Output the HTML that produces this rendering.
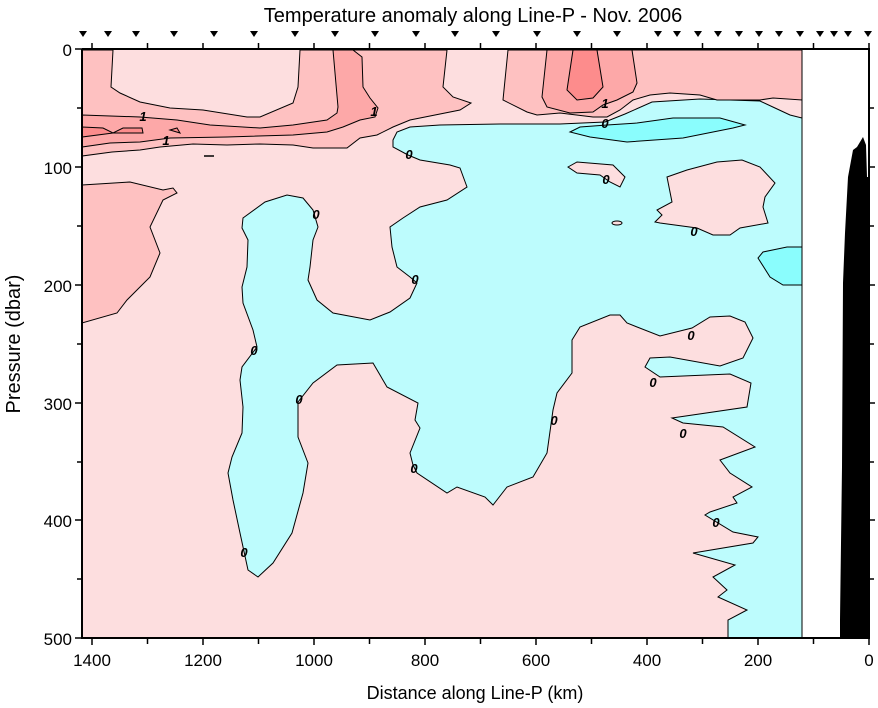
<!DOCTYPE html>
<html><head><meta charset="utf-8"><style>
html,body{margin:0;padding:0;background:#fff}
svg{display:block}
text{font-family:"Liberation Sans",Arial,sans-serif;fill:#000}
</style></head><body>
<svg width="878" height="708" viewBox="0 0 878 708" xmlns="http://www.w3.org/2000/svg">
<rect x="82" y="50" width="720" height="588" fill="#fddedf"/>
<polygon fill="#bdfcfd" stroke="#000" stroke-width="1" points="393,140 397,132 410,127 440,125 500,124 560,124 605,122 625,114 652,102 700,99 760,101 775,108 790,115 802,118 802,638 728,638 728,620 747,610 718,597 727,590 713,577 735,565 693,553 753,543 758,537 733,532 705,515 710,512 737,503 733,497 752,487 730,473 720,460 755,447 723,427 683,423 672,418 747,407 751,383 730,374 660,377 645,367 650,358 670,357 720,366 743,358 753,338 745,322 730,316 710,317 692,328 660,336 627,323 620,315 610,315 580,327 572,340 572,373 557,393 553,410 547,453 533,477 507,487 493,505 485,497 457,487 447,493 417,473 413,465 410,453 420,428 415,420 418,403 387,387 373,363 337,365 313,383 298,402 298,437 308,463 303,493 292,533 273,563 258,577 248,570 240,533 233,500 228,473 232,457 242,433 243,407 240,380 242,367 257,347 253,330 243,303 242,287 247,267 248,240 242,228 243,218 265,202 287,195 303,198 313,210 318,227 313,240 310,267 308,280 317,300 333,313 370,320 390,312 410,298 417,283 410,277 397,267 392,247 390,227 403,218 420,207 447,200 467,187 460,168 450,165 420,160 408,155 393,147"/>
<polygon fill="#fddedf" stroke="#000" stroke-width="1" points="568,167 577,162 613,165 625,177 620,187 610,182 600,175 577,173"/>
<polygon fill="#fddedf" stroke="#000" stroke-width="1" points="667,177 687,170 717,162 742,160 760,167 775,183 765,197 763,207 768,223 740,228 730,235 713,235 697,228 660,223 655,222 662,215 657,210 672,202"/>
<ellipse cx="617" cy="223" rx="5" ry="2" fill="#fddedf" stroke="#000" stroke-width="1"/>
<polygon fill="#8afdfd" stroke="#000" stroke-width="1" points="570,132 580,127 607,125 637,123 673,118 720,118 745,125 733,128 683,138 627,142 590,137"/>
<polygon fill="#8afdfd" stroke="#000" stroke-width="1" points="802,247 787,247 763,252 758,258 770,277 783,285 802,285"/>
<polygon fill="#fec1c1" stroke="#000" stroke-width="1" points="82,50 113,50 111,87 120,93 140,102 170,108 203,110 247,117 260,117 293,103 298,87 300,50 447,50 443,87 453,97 471,103 460,110 410,120 393,127 377,135 360,138 347,148 313,148 293,145 260,144 227,145 193,144 160,147 140,150 112,152 82,156"/>
<polygon fill="#fec1c1" stroke="#000" stroke-width="1" points="508,50 802,50 802,100 773,98 760,100 717,100 700,95 670,93 650,95 633,100 620,110 607,117 593,117 560,113 537,115 527,112 503,100"/>
<polygon fill="#fec1c1" stroke="#000" stroke-width="1" points="82,185 130,182 163,190 173,188 177,193 163,200 150,227 160,253 150,277 127,300 117,313 82,323"/>
<polygon fill="#fda8a8" stroke="#000" stroke-width="1" points="82,115 140,117 177,120 210,125 260,128 293,125 327,120 337,113 338,107 333,50 353,50 362,57 363,87 370,98 378,108 375,117 360,120 343,127 327,132 293,135 227,137 170,138 140,142 110,143 82,147"/>
<polygon fill="#fda8a8" stroke="#000" stroke-width="1" points="547,50 542,97 547,107 570,113 593,112 603,105 617,100 633,92 637,83 632,50"/>
<polygon fill="#fc8c8c" stroke="#000" stroke-width="1" points="82,127 103,128 113,133 123,128 142,128 143,133 113,133 82,137"/>
<polygon fill="#fc8c8c" stroke="#000" stroke-width="1" points="170,130 177,128 180,133"/>
<polygon fill="#fd8c8c" stroke="#000" stroke-width="1" points="573,50 567,90 577,100 593,98 603,87 597,50"/>
<line x1="204" y1="156" x2="214" y2="156" stroke="#000" stroke-width="1.5"/>
<g font-size="13" font-style="italic" font-weight="bold" text-anchor="middle">
<text x="143" y="121">1</text><text x="166" y="145">1</text><text x="374" y="116">1</text><text x="605" y="108">1</text>
<text x="605" y="128">0</text><text x="409" y="159">0</text><text x="316" y="219">0</text><text x="415" y="284">0</text>
<text x="254" y="355">0</text><text x="299" y="404">0</text><text x="414" y="473">0</text><text x="244" y="557">0</text>
<text x="606" y="184">0</text><text x="694" y="236">0</text><text x="691" y="340">0</text>
<text x="653" y="387">0</text><text x="554" y="425">0</text><text x="683" y="438">0</text><text x="716" y="527">0</text>
</g>
<line x1="802" y1="50" x2="802" y2="638" stroke="#000" stroke-width="1"/>
<polygon fill="#000" points="840,638 840,620 842,467 843,283 845,233 848,177 853,150 857,147 863,137 866,145 867,177 869,177 869,638"/>
<g stroke="#000" stroke-width="2" fill="none">
<line x1="82" y1="49" x2="870" y2="49"/>
<line x1="82" y1="638" x2="870" y2="638"/>
<line x1="82" y1="49" x2="82" y2="639"/>
<line x1="869" y1="49" x2="869" y2="639"/>
</g>
<g stroke="#000" stroke-width="1.5">
<line x1="869" y1="638" x2="869" y2="645"/><line x1="813.5" y1="638" x2="813.5" y2="644"/>
<line x1="758" y1="638" x2="758" y2="645"/><line x1="702.5" y1="638" x2="702.5" y2="644"/>
<line x1="647" y1="638" x2="647" y2="645"/><line x1="591.5" y1="638" x2="591.5" y2="644"/>
<line x1="536" y1="638" x2="536" y2="645"/><line x1="480.5" y1="638" x2="480.5" y2="644"/>
<line x1="425" y1="638" x2="425" y2="645"/><line x1="369.5" y1="638" x2="369.5" y2="644"/>
<line x1="314" y1="638" x2="314" y2="645"/><line x1="258.5" y1="638" x2="258.5" y2="644"/>
<line x1="203" y1="638" x2="203" y2="645"/><line x1="147.5" y1="638" x2="147.5" y2="644"/>
<line x1="92" y1="638" x2="92" y2="645"/>
<line x1="869" y1="49" x2="869" y2="43"/><line x1="813.5" y1="49" x2="813.5" y2="43"/>
<line x1="758" y1="49" x2="758" y2="43"/><line x1="702.5" y1="49" x2="702.5" y2="43"/>
<line x1="647" y1="49" x2="647" y2="43"/><line x1="591.5" y1="49" x2="591.5" y2="43"/>
<line x1="536" y1="49" x2="536" y2="43"/><line x1="480.5" y1="49" x2="480.5" y2="43"/>
<line x1="425" y1="49" x2="425" y2="43"/><line x1="369.5" y1="49" x2="369.5" y2="43"/>
<line x1="314" y1="49" x2="314" y2="43"/><line x1="258.5" y1="49" x2="258.5" y2="43"/>
<line x1="203" y1="49" x2="203" y2="43"/><line x1="147.5" y1="49" x2="147.5" y2="43"/>
<line x1="92" y1="49" x2="92" y2="43"/>
<line x1="75" y1="49" x2="82" y2="49"/><line x1="77" y1="108" x2="82" y2="108"/>
<line x1="75" y1="167" x2="82" y2="167"/><line x1="77" y1="226" x2="82" y2="226"/>
<line x1="75" y1="285" x2="82" y2="285"/><line x1="77" y1="344" x2="82" y2="344"/>
<line x1="75" y1="403" x2="82" y2="403"/><line x1="77" y1="462" x2="82" y2="462"/>
<line x1="75" y1="520" x2="82" y2="520"/><line x1="77" y1="579" x2="82" y2="579"/>
<line x1="75" y1="638" x2="82" y2="638"/>
<line x1="869" y1="108" x2="874" y2="108"/><line x1="869" y1="167" x2="875" y2="167"/>
<line x1="869" y1="226" x2="874" y2="226"/><line x1="869" y1="285" x2="875" y2="285"/>
<line x1="869" y1="344" x2="874" y2="344"/><line x1="869" y1="403" x2="875" y2="403"/>
<line x1="869" y1="462" x2="874" y2="462"/><line x1="869" y1="520" x2="875" y2="520"/>
<line x1="869" y1="579" x2="874" y2="579"/>
</g>
<g fill="#000">
<path d="M79,31h8l-4,6z"/><path d="M104,31h8l-4,6z"/><path d="M132,31h8l-4,6z"/><path d="M170,31h8l-4,6z"/>
<path d="M210,31h8l-4,6z"/><path d="M250,31h8l-4,6z"/><path d="M291,31h8l-4,6z"/><path d="M331,31h8l-4,6z"/>
<path d="M371,31h8l-4,6z"/><path d="M412,31h8l-4,6z"/><path d="M451,31h8l-4,6z"/><path d="M492,31h8l-4,6z"/>
<path d="M533,31h8l-4,6z"/><path d="M573,31h8l-4,6z"/><path d="M613,31h8l-4,6z"/><path d="M654,31h8l-4,6z"/>
<path d="M673,31h8l-4,6z"/><path d="M694,31h8l-4,6z"/><path d="M714,31h8l-4,6z"/><path d="M735,31h8l-4,6z"/>
<path d="M755,31h8l-4,6z"/><path d="M775,31h8l-4,6z"/><path d="M796,31h8l-4,6z"/><path d="M816,31h8l-4,6z"/>
<path d="M830,31h8l-4,6z"/><path d="M844,31h8l-4,6z"/><path d="M864,31h8l-4,6z"/>
</g>
<text x="473" y="22" font-size="20" text-anchor="middle">Temperature anomaly along Line-P - Nov. 2006</text>
<g font-size="17" text-anchor="end">
<text x="72" y="56">0</text><text x="72" y="174">100</text><text x="72" y="292">200</text>
<text x="72" y="410">300</text><text x="72" y="527">400</text><text x="72" y="645">500</text>
</g>
<g font-size="17" text-anchor="middle">
<text x="92" y="666">1400</text><text x="203" y="666">1200</text><text x="314" y="666">1000</text>
<text x="425" y="666">800</text><text x="536" y="666">600</text><text x="647" y="666">400</text>
<text x="758" y="666">200</text><text x="869" y="666">0</text>
</g>
<text x="475" y="699" font-size="18" text-anchor="middle">Distance along Line-P (km)</text>
<text transform="translate(20,344) rotate(-90)" font-size="20" text-anchor="middle">Pressure (dbar)</text>
</svg>
</body></html>
